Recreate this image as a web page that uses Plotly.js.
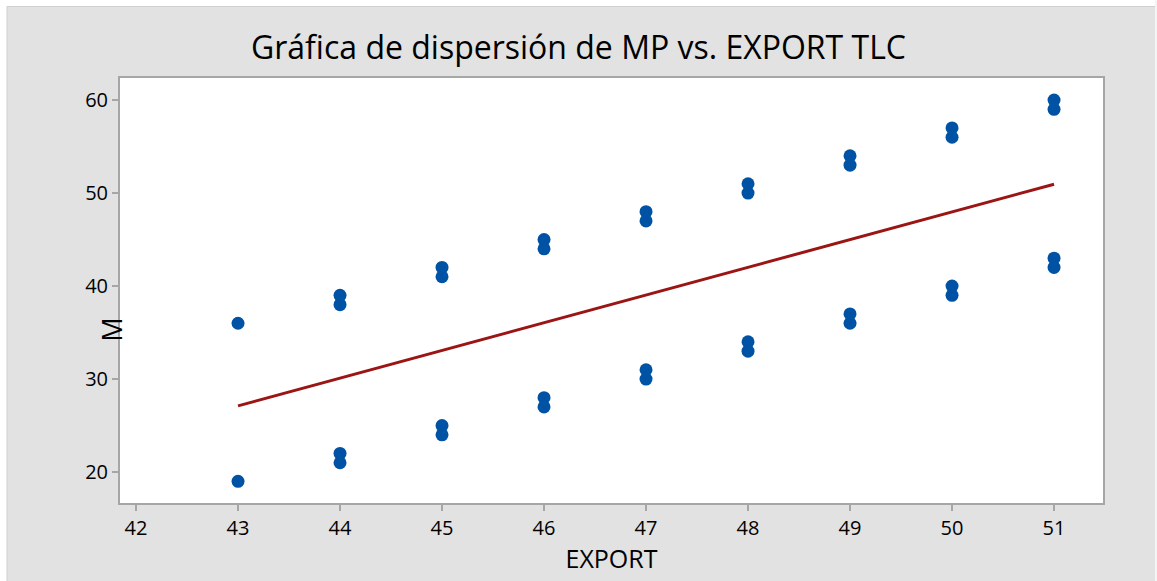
<!DOCTYPE html>
<html>
<head>
<meta charset="utf-8">
<script src="https://cdn.plot.ly/plotly-3.0.1.min.js"></script>
<style>html,body{margin:0;padding:0;background:#fff;}#chart{width:1157px;height:581px;}</style>
</head>
<body>
<div id="chart"></div>
<script>
// Data
const exportX = [43, 43, 44, 44, 44, 44, 45, 45, 45, 45, 46, 46, 46, 46, 47, 47, 47, 47,
                 48, 48, 48, 48, 49, 49, 49, 49, 50, 50, 50, 50, 51, 51, 51, 51];
const mpY     = [36, 19, 39, 38, 22, 21, 42, 41, 25, 24, 45, 44, 28, 27, 48, 47, 31, 30,
                 51, 50, 34, 33, 54, 53, 37, 36, 57, 56, 40, 39, 60, 59, 43, 42];
const xTicks = [42, 43, 44, 45, 46, 47, 48, 49, 50, 51];
const yTicks = [20, 30, 40, 50, 60];

// Least-squares fit line
const n = exportX.length;
const mx = exportX.reduce((a, b) => a + b, 0) / n;
const my = mpY.reduce((a, b) => a + b, 0) / n;
let sxy = 0, sxx = 0;
for (let i = 0; i < n; i++) { sxy += (exportX[i] - mx) * (mpY[i] - my); sxx += (exportX[i] - mx) ** 2; }
const slope = sxy / sxx, intercept = my - slope * mx;
const fitX = [Math.min(...exportX), Math.max(...exportX)];
const fitY = fitX.map(x => intercept + slope * x);

const font = "'Open Sans', 'Noto Sans', sans-serif";
const axisCommon = {
  showgrid: false, zeroline: false, showline: true, mirror: true,
  linecolor: '#a6a6a6', linewidth: 2, ticks: 'outside', ticklen: 6, tickwidth: 2,
  tickcolor: '#a6a6a6', tickfont: {family: font, size: 20, color: '#000', weight: 500}
};

const W = 983, H = 425, L = 120, T = 78;
const px = v => (v - L) / W;
const py = v => (T + H - v) / H;

const data = [
  {x: fitX, y: fitY, type: 'scatter', mode: 'lines',
   line: {color: '#9b1515', width: 3}, hoverinfo: 'skip', showlegend: false},
  {x: exportX, y: mpY, type: 'scatter', mode: 'markers',
   marker: {color: '#0053a4', size: 13}, showlegend: false}
];

const layout = {
  width: 1157, height: 581,
  margin: {l: 120, r: 54, t: 78, b: 78},
  paper_bgcolor: '#e2e2e2', plot_bgcolor: '#ffffff',
  title: {text: 'Gráfica de dispersión de MP vs. EXPORT TLC',
          font: {family: font, size: 32, color: '#000', weight: 500},
          x: 0.5, xanchor: 'center', y: 1 - 48/581, yanchor: 'middle'},
  xaxis: Object.assign({}, axisCommon, {
    range: [41.843, 51.48], tickvals: xTicks, ticktext: xTicks.map(String),
    title: {text: 'EXPORT', font: {family: font, size: 25, color: '#000', weight: 500}, standoff: 10}
  }),
  yaxis: Object.assign({}, axisCommon, {
    range: [16.67, 62.37], tickvals: yTicks, ticktext: yTicks.map(String)
  }),
  annotations: [{
    text: 'M', xref: 'paper', yref: 'y', x: 0, y: 35.3, xanchor: 'center', yanchor: 'middle',
    xshift: -8, textangle: -90, showarrow: false,
    font: {family: font, size: 27, color: '#000', weight: 500}
  }],
  shapes: [
    {type: 'rect', xref: 'paper', yref: 'paper', x0: px(-5), x1: px(7), y0: py(600), y1: py(-5),
     fillcolor: '#ffffff', line: {width: 0}, layer: 'below'},
    {type: 'rect', xref: 'paper', yref: 'paper', x0: px(-5), x1: px(1165), y0: py(6.5), y1: py(-5),
     fillcolor: '#ffffff', line: {width: 0}, layer: 'below'},
    {type: 'rect', xref: 'paper', yref: 'paper', x0: px(1155), x1: px(1165), y0: py(600), y1: py(-5),
     fillcolor: '#f4f4f4', line: {width: 0}, layer: 'below'},
    {type: 'line', xref: 'paper', yref: 'paper', x0: px(7), x1: px(1155), y0: py(6.5), y1: py(6.5),
     line: {color: '#cfcfcf', width: 1}, layer: 'below'},
    {type: 'line', xref: 'paper', yref: 'paper', x0: px(7), x1: px(7), y0: py(6.5), y1: py(600),
     line: {color: '#cfcfcf', width: 1}, layer: 'below'}
  ]
};

Plotly.newPlot('chart', data, layout, {displayModeBar: false, staticPlot: true});
</script>
</body>
</html>
